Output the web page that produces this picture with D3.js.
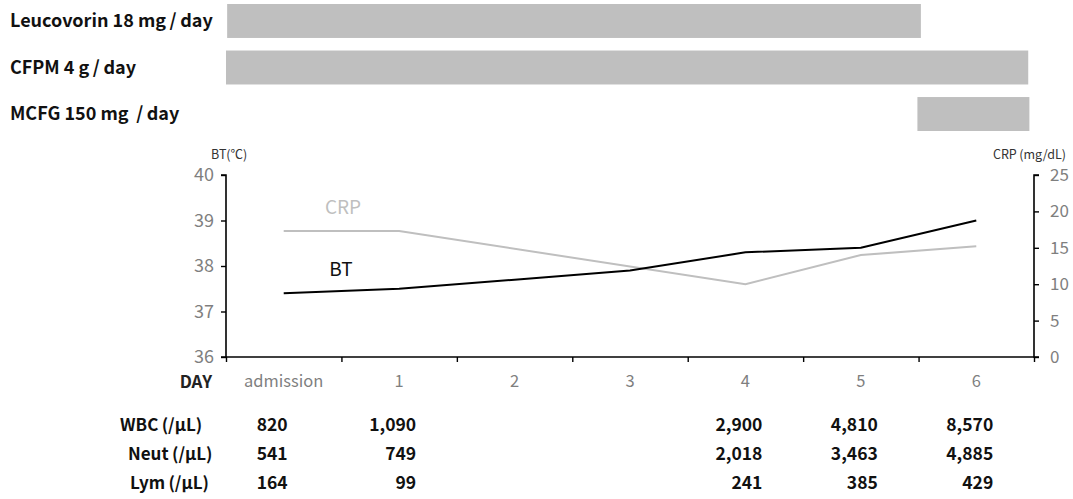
<!DOCTYPE html>
<html><head><meta charset="utf-8">
<script src="https://cdn.jsdelivr.net/npm/d3@7"></script>
<style>
body{margin:0;background:#fff;}
svg{display:block;font-family:"Noto Sans CJK JP","Noto Sans",sans-serif;}
</style></head>
<body><svg id="c" width="1073" height="499"></svg>
<script>
// ---- data ----
const days = ["admission","1","2","3","4","5","6"];
const bt = [37.4, 37.5, 37.7, 37.9, 38.3, 38.4, 39.0];
const crp = [17.3, 17.3, null, null, 10.0, 14.0, 15.2];
const drugs = ["Leucovorin 18 mg\u2009/\u2009day","CFPM 4 g\u2009/\u2009day","MCFG 150 mg \u2009/\u2009day"];
const drugStart = [0.01, 0.0, 5.99];
const drugEnd = [6.02, 6.95, 6.96];
const btTicks = [36,37,38,39,40];
const crpTicks = [0,5,10,15,20,25];
const labRows = ["WBC\u2009(/μL)","Neut\u2009(/μL)","Lym\u2009(/μL)"];
const wbc  = ["820","1,090",null,null,"2,900","4,810","8,570"];
const neut = ["541","749",null,null,"2,018","3,463","4,885"];
const lym  = ["164","99",null,null,"241","385","429"];

const svg = d3.select("#c");
const L = 226, R = 1034, T = 175, B = 357;
const x = d3.scaleBand().domain(days).range([L, R]).padding(0);
const xd = d3.scaleLinear().domain([0, days.length]).range([L, R]);
const yL = d3.scaleLinear().domain([36, 40]).range([B, T]);
const yR = d3.scaleLinear().domain([0, 25]).range([B, T]);
const yDrug = d3.scaleBand().domain(drugs).range([4, 131]).paddingInner(0.27);

// ---- drug bars ----
const dg = svg.append("g");
drugs.forEach((d, i) => {
  dg.append("rect").attr("x", xd(drugStart[i])).attr("width", xd(drugEnd[i]) - xd(drugStart[i]))
    .attr("y", yDrug(d)).attr("height", yDrug.bandwidth()).attr("fill", "#bfbfbf");
  dg.append("text").attr("x", 10).attr("y", yDrug(d) + yDrug.bandwidth() / 2)
    .attr("dy", "0.35em").attr("font-size", 18).attr("font-weight", 700).attr("fill", "#111")
    .text(d);
});

// ---- axes ----
const axL = svg.append("g").attr("transform", `translate(${L},0)`)
  .call(d3.axisLeft(yL).tickValues(btTicks).tickSize(5).tickPadding(7).tickFormat(d3.format("d")));
const axR = svg.append("g").attr("transform", `translate(${R},0)`)
  .call(d3.axisRight(yR).tickValues(crpTicks).tickSize(5).tickPadding(11).tickFormat(d3.format("d")));
const axB = svg.append("g").attr("transform", `translate(0,${B})`)
  .call(d3.axisBottom(xd).tickValues(d3.range(days.length + 1)).tickSize(5).tickFormat(""));
[axL, axR, axB].forEach(a => {
  a.select(".domain").attr("stroke", "#000").attr("stroke-width", 1.6);
  a.selectAll(".tick line").attr("stroke", "#000").attr("stroke-width", 1.4);
});
axB.select(".domain").attr("d", `M${L},0H${R}`);
axL.select(".domain").attr("d", `M-5,${T}H0V${B}H-5`);
axR.select(".domain").attr("d", `M5,${T}H0V${B}H5`);
axL.selectAll(".tick text").attr("font-size", 18).attr("fill", "#7f7f7f")
  .attr("font-family", "'Noto Sans CJK JP',sans-serif");
axR.selectAll(".tick text").attr("font-size", 17).attr("fill", "#7f7f7f")
  .attr("font-family", "'Noto Sans CJK JP',sans-serif");

// category labels
svg.append("g").selectAll("text").data(days).join("text")
  .attr("x", d => x(d) + x.bandwidth() / 2).attr("y", 381).attr("dy", "0.35em")
  .attr("text-anchor", "middle").attr("font-size", 16.5).attr("fill", "#7f7f7f").text(d => d);
svg.append("text").attr("x", 212).attr("y", 382).attr("dy", "0.35em").attr("text-anchor", "end")
  .attr("font-size", 17).attr("font-weight", 700).attr("fill", "#222").text("DAY");

// axis titles
svg.append("text").attr("x", 211).attr("y", 155).attr("dy", "0.35em").attr("font-size", 12.5)
  .attr("fill", "#333").text("BT(℃)");
svg.append("text").attr("x", 1066).attr("y", 155).attr("dy", "0.35em").attr("font-size", 12.5)
  .attr("text-anchor", "end").attr("fill", "#333").text("CRP\u2009(mg/dL)");

// ---- lines ----
const cx = (d, i) => x(days[i]) + x.bandwidth() / 2;
const crpPts = crp.map((v, i) => [cx(null, i), v]).filter(p => p[1] != null);
svg.append("path").datum(crpPts).attr("fill", "none").attr("stroke", "#bfbfbf").attr("stroke-width", 2)
  .attr("d", d3.line().x(p => p[0]).y(p => yR(p[1])));
svg.append("path").datum(bt).attr("fill", "none").attr("stroke", "#000").attr("stroke-width", 2)
  .attr("d", d3.line().x((d, i) => cx(d, i)).y(d => yL(d)));

// series labels
svg.append("text").attr("x", 343).attr("y", 207).attr("dy", "0.35em").attr("text-anchor", "middle")
  .attr("font-size", 19).attr("fill", "#bfbfbf").text("CRP");
svg.append("text").attr("x", 341).attr("y", 269).attr("dy", "0.35em").attr("text-anchor", "middle")
  .attr("font-size", 19).attr("fill", "#111").text("BT");

// ---- table ----
const yRow = d3.scalePoint().domain(labRows).range([425, 483]);
const rowLeft = [120, 128, 130];
const tableData = [wbc, neut, lym];
labRows.forEach((r, ri) => {
  svg.append("text").attr("x", rowLeft[ri]).attr("y", yRow(r)).attr("dy", "0.35em")
    .attr("font-size", 17).attr("font-weight", 700).attr("fill", "#111").text(r);
  svg.append("g").selectAll("text").data(tableData[ri].map((v, i) => ({v, i})).filter(d => d.v != null)).join("text")
    .attr("x", d => cx(null, d.i) + (d.i === 0 ? 4 : 17))
    .attr("y", yRow(r)).attr("dy", "0.35em").attr("text-anchor", "end")
    .attr("font-size", 17.5).attr("font-weight", 700).attr("fill", "#111").text(d => d.v);
});
</script></body></html>
